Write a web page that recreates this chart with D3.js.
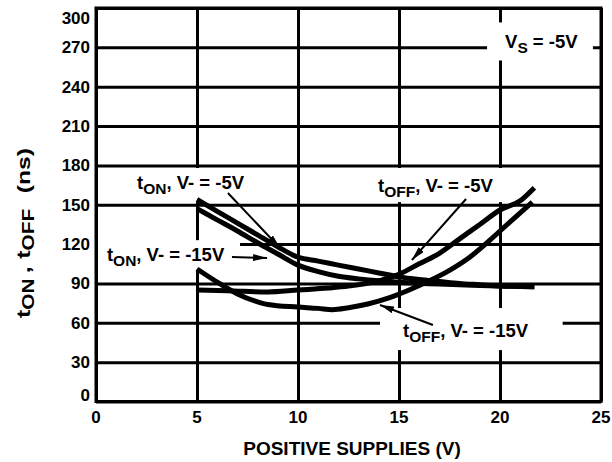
<!DOCTYPE html>
<html>
<head>
<meta charset="utf-8">
<script src="https://cdn.jsdelivr.net/npm/d3@7"></script>
<style>
  html, body { margin: 0; padding: 0; background: #fff; }
  svg { display: block; font-family: "Liberation Sans", Arial, sans-serif; font-weight: bold; }
</style>
</head>
<body>
<svg id="chart"></svg>
<script>
// Chart size matches the browser window
const width = 612;
const height = 462;

// Axis ticks
const xTicks = [0, 5, 10, 15, 20, 25];
const yTicks = [0, 30, 60, 90, 120, 150, 180, 210, 240, 270, 300];

// Curves: [positive supply (V), time (ns)]
const tOnNeg5 = [[5, 154], [6, 145], [7, 136], [8, 127], [9, 118], [10, 110], [11, 107], [12, 104], [13, 101], [14, 98], [15, 95], [16, 93], [17, 91.5], [18, 90], [19, 89], [20, 88], [21.7, 87.5]];
const tOnNeg15 = [[5, 147], [6, 138.5], [7, 130], [8, 121], [9, 112.5], [10, 104], [11, 99], [12, 95.5], [13, 93.5], [14, 92], [15, 91], [17, 89.5], [19, 88.5], [21.7, 87.5]];
const tOffNeg5 = [[5, 85], [6.5, 84.5], [8.5, 83.5], [10, 85], [11.5, 86.5], [12.5, 88], [14, 92], [15, 97], [16, 105], [17, 113], [18, 124], [19, 135], [20, 146], [21, 153], [21.7, 163]];
const tOffNeg15 = [[5, 101], [6, 91], [7, 82], [8, 76], [8.5, 74], [10, 72], [11, 71], [11.7, 70], [12.5, 71.5], [13.5, 74.5], [14.5, 79], [15.5, 85], [16.5, 92], [17.5, 100], [18.5, 110], [19.5, 123], [20.5, 137], [21.6, 152]];

const svg = d3.select("#chart")
    .attr("width", width)
    .attr("height", height);

// Scales
const x = d3.scaleLinear().domain([0, 25]).range([96, 601]);
const y = d3.scaleLinear().domain([0, 300]).range([401.5, 8]);

// Grid lines (thick, like the datasheet)
svg.append("g")
    .attr("transform", `translate(0,${y(0)})`)
    .call(d3.axisBottom(x).tickValues(xTicks).tickSize(-(y(0) - y(300))).tickFormat(""))
    .call(g => g.select(".domain").remove())
    .call(g => g.selectAll("line").attr("stroke", "#000").attr("stroke-width", 3));

svg.append("g")
    .attr("transform", `translate(${x(0)},0)`)
    .call(d3.axisLeft(y).tickValues(yTicks).tickSize(-(x(25) - x(0))).tickFormat(""))
    .call(g => g.select(".domain").remove())
    .call(g => g.selectAll("line").attr("stroke", "#000").attr("stroke-width", 3));

// White boxes behind the labels knock out the grid
const boxes = [
    [19.36, 24.6, 289, 260],   // VS
    [0.1, 7.13, 123, 100.5],   // tON -15V
    [1.7, 8.0, 178, 152],      // tON -5V
    [13.8, 20.25, 178, 152],   // tOFF -5V
    [14.06, 23.1, 71.3, 39.2]  // tOFF -15V
];
svg.append("g").selectAll("rect")
    .data(boxes)
    .enter()
    .append("rect")
    .attr("x", d => x(d[0]))
    .attr("y", d => y(d[2]))
    .attr("width", d => x(d[1]) - x(d[0]))
    .attr("height", d => y(d[3]) - y(d[2]))
    .attr("fill", "#fff");

// Frame
svg.append("rect")
    .attr("x", x(0))
    .attr("y", y(300))
    .attr("width", x(25) - x(0))
    .attr("height", y(0) - y(300))
    .attr("fill", "none")
    .attr("stroke", "#000")
    .attr("stroke-width", 3);

// Curves
const line = d3.line()
    .x(d => x(d[0]))
    .y(d => y(d[1]))
    .curve(d3.curveMonotoneX);

[tOnNeg5, tOnNeg15, tOffNeg5, tOffNeg15].forEach(series => {
    svg.append("path")
        .datum(series)
        .attr("d", line)
        .attr("fill", "none")
        .attr("stroke", "#000")
        .attr("stroke-width", 5)
        .attr("stroke-linejoin", "round");
});

// Tick labels
svg.append("g").selectAll("text")
    .data(xTicks)
    .enter()
    .append("text")
    .attr("x", d => x(d))
    .attr("y", 423)
    .attr("text-anchor", "middle")
    .attr("font-size", 17)
    .text(d => d);

svg.append("g").selectAll("text")
    .data(yTicks)
    .enter()
    .append("text")
    .attr("x", 90)
    .attr("y", d => y(d))
    .attr("dy", d => d === 300 ? 16 : d === 0 ? -1 : 6)
    .attr("text-anchor", "end")
    .attr("font-size", 17)
    .text(d => d);

// Axis titles
svg.append("text")
    .attr("x", 352)
    .attr("y", 455)
    .attr("text-anchor", "middle")
    .attr("font-size", 19)
    .text("POSITIVE SUPPLIES (V)");

const yTitle = svg.append("text")
    .attr("transform", "translate(30,233) rotate(-90) scale(1.3,1)")
    .attr("text-anchor", "middle")
    .attr("font-size", 19);
yTitle.append("tspan").text("t");
yTitle.append("tspan").attr("dy", 4).attr("font-size", 16).text("ON");
yTitle.append("tspan").attr("dx", 4).attr("dy", -4).text(",");
yTitle.append("tspan").attr("dx", 6).text("t");
yTitle.append("tspan").attr("dy", 4).attr("font-size", 16).text("OFF");
yTitle.append("tspan").attr("dx", 12).attr("dy", -4).text("(ns)");

// Curve labels with subscripts
function subLabel(vx, vy, main, sub, rest) {
    const t = svg.append("text")
        .attr("x", x(vx))
        .attr("y", y(vy))
        .attr("font-size", 18.5);
    t.append("tspan").text(main);
    t.append("tspan").attr("dy", 5).attr("font-size", 15.5).text(sub);
    t.append("tspan").attr("dy", -5).text(rest);
}
subLabel(2.03, 162, "t", "ON", ", V- = -5V");
subLabel(0.54, 107, "t", "ON", ", V- = -15V");
subLabel(13.96, 159.7, "t", "OFF", ", V- = -5V");
subLabel(15.2, 49.2, "t", "OFF", ", V- = -15V");
subLabel(20.25, 269.5, "V", "S", " = -5V");

// Arrows from labels to curves
svg.append("defs").append("marker")
    .attr("id", "head")
    .attr("viewBox", "0 0 14 7")
    .attr("refX", 14)
    .attr("refY", 3.5)
    .attr("markerWidth", 14)
    .attr("markerHeight", 7)
    .attr("markerUnits", "userSpaceOnUse")
    .attr("orient", "auto")
    .append("path")
    .attr("d", "M0,0 L14,3.5 L0,7 Z")
    .attr("fill", "#000");

const arrows = [
    [6.53, 159, 9.11, 117],
    [6.73, 110.2, 8.47, 109.4],
    [18.32, 154.4, 15.64, 107.9],
    [16.68, 58.3, 14.06, 73.6]
];
svg.append("g").selectAll("line")
    .data(arrows)
    .enter()
    .append("line")
    .attr("x1", d => x(d[0]))
    .attr("y1", d => y(d[1]))
    .attr("x2", d => x(d[2]))
    .attr("y2", d => y(d[3]))
    .attr("stroke", "#000")
    .attr("stroke-width", 2)
    .attr("marker-end", "url(#head)");
</script>
</body>
</html>
